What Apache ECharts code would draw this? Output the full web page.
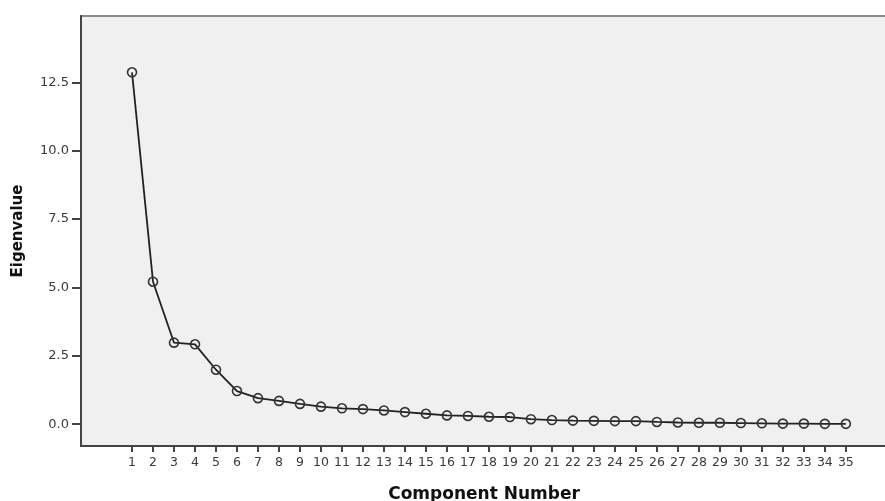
<!DOCTYPE html>
<html>
<head>
<meta charset="utf-8">
<script src="https://cdn.jsdelivr.net/npm/echarts@6/dist/echarts.min.js"></script>
<style>
  html, body { margin: 0; padding: 0; background: #fff; overflow: hidden; }
  #chart { width: 885px; height: 501px; }
</style>
</head>
<body>
<div id="chart"></div>
<script>
// Scree plot: eigenvalue per component
const componentNumbers = [1, 2, 3, 4, 5, 6, 7, 8, 9, 10, 11, 12, 13, 14, 15, 16, 17, 18,
    19, 20, 21, 22, 23, 24, 25, 26, 27, 28, 29, 30, 31, 32, 33, 34, 35];
const eigenvalues = [12.87, 5.21, 2.98, 2.92, 1.99, 1.21, 0.95, 0.85, 0.74, 0.64, 0.58, 0.55,
    0.50, 0.44, 0.38, 0.32, 0.30, 0.27, 0.26, 0.18, 0.15, 0.13, 0.12, 0.11, 0.11, 0.08,
    0.06, 0.05, 0.05, 0.04, 0.03, 0.02, 0.02, 0.01, 0.01];
const yTicks = [0, 2.5, 5, 7.5, 10, 12.5];

const chart = echarts.init(document.getElementById("chart"));
const axisColor = '#444';
const textColor = '#3a3a3a';

chart.setOption({
    animation: false,
    grid: {
        left: 81, top: 16, right: -2, bottom: 55,
        outerBoundsMode: 'none',
        show: true,
        backgroundColor: '#f0f0f0',
        borderColor: '#8a8a8a',
        borderWidth: 2
    },
    xAxis: {
        type: 'value',
        min: -1.43,
        max: 36.96,
        name: 'Component Number',
        nameLocation: 'middle',
        nameGap: 40,
        nameTextStyle: { fontFamily: 'DejaVu Sans', fontWeight: 'bold', fontSize: 17, color: '#111' },
        splitLine: { show: false },
        axisLine: { show: true, onZero: false, lineStyle: { color: axisColor, width: 2 } },
        axisTick: { show: true, length: 6, customValues: componentNumbers, lineStyle: { color: axisColor, width: 2 } },
        axisLabel: {
            customValues: componentNumbers,
            fontFamily: 'DejaVu Sans', fontSize: 12.5, color: textColor, margin: 10
        }
    },
    yAxis: {
        type: 'value',
        min: -0.8,
        max: 14.93,
        name: 'Eigenvalue',
        nameLocation: 'middle',
        nameGap: 55,
        nameTextStyle: { fontFamily: 'DejaVu Sans', fontWeight: 'bold', fontSize: 15, color: '#111' },
        splitLine: { show: false },
        axisLine: { show: true, onZero: false, lineStyle: { color: axisColor, width: 2 } },
        axisTick: { show: true, length: 9, customValues: yTicks, lineStyle: { color: axisColor, width: 2 } },
        axisLabel: {
            customValues: yTicks,
            formatter: v => v.toFixed(1),
            fontFamily: 'DejaVu Sans', fontSize: 13, color: textColor, margin: 12
        }
    },
    series: [{
        type: 'line',
        data: componentNumbers.map((c, i) => [c, eigenvalues[i]]),
        symbol: 'circle',
        symbolSize: 9,
        itemStyle: { color: 'rgba(0,0,0,0)', borderColor: '#333', borderWidth: 1.6 },
        lineStyle: { color: '#222', width: 1.8 }
    }]
});
window.addEventListener('resize', () => chart.resize());
</script>
</body>
</html>
